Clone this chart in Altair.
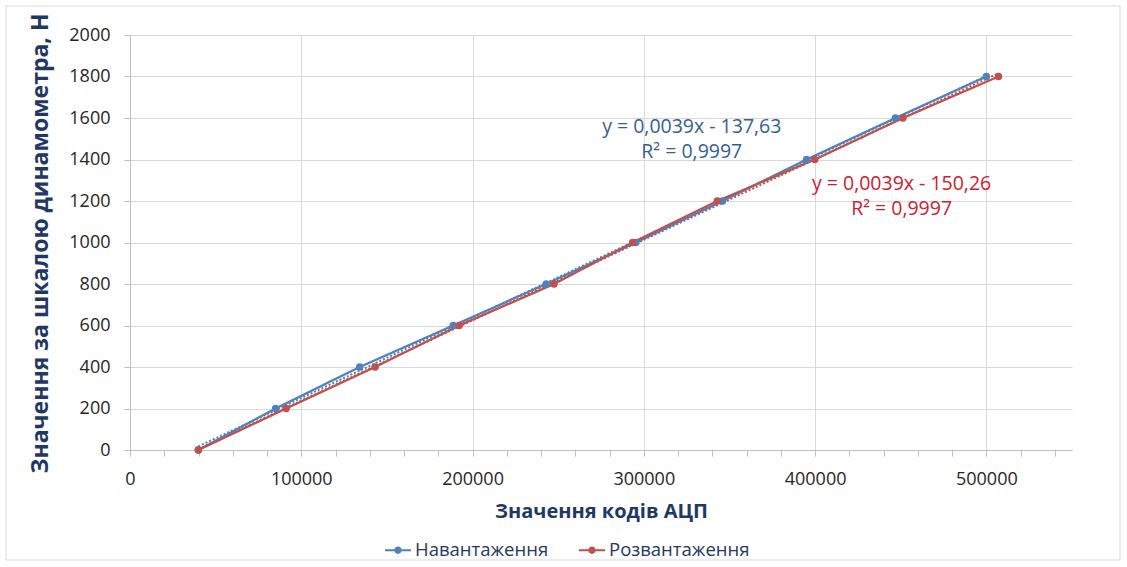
import altair as alt
import pandas as pd

# Calibration readings: ADC code vs. dynamometer scale value (N)
force_n = [0, 200, 400, 600, 800, 1000, 1200, 1400, 1600, 1800]
adc_loading = [39900, 85000, 134100, 188700, 243000, 295400, 346000, 395000, 446900, 500000]
adc_unloading = [39900, 91200, 143100, 192200, 247600, 293500, 342900, 399800, 451300, 507100]

series_names = ["Навантаження", "Розвантаження"]
series_colors = ["#4F81BD", "#C0504D"]

# Trendline equations as printed next to each series
eq_texts = [
    ["y = 0,0039x - 137,63", "R² = 0,9997"],
    ["y = 0,0039x - 150,26", "R² = 0,9997"],
]
eq_x = [328000, 450500]
eq_y = [1555, 1280]
eq_colors = ["#365F91", "#D0202F"]

x_title = "Значення кодів АЦП"
y_title = "Значення за шкалою динамометра, Н"

FONT = "Open Sans"
NAVY = "#1F3864"

rows = []
for name, xs in zip(series_names, [adc_loading, adc_unloading]):
    for xv, yv in zip(xs, force_n):
        rows.append({"adc": xv, "force": yv, "series": name})
df = pd.DataFrame(rows)

x_scale = alt.Scale(domain=[0, 550000], nice=False, zero=False)
y_scale = alt.Scale(domain=[0, 2000], nice=False)
color_scale = alt.Scale(domain=series_names, range=series_colors)

x_axis = alt.Axis(
    title=x_title,
    values=list(range(0, 550001, 20000)),
    tickCount=100,
    format="d",
    labelExpr="datum.value % 100000 === 0 ? datum.label : ''",
    labelOverlap=False,
    labelFlush=False,
    labelFont=FONT,
    labelFontSize=18,
    labelColor="#262626",
    labelPadding=14,
    tickSize=6,
    tickColor="#BFBFBF",
    domainColor="#BFBFBF",
    grid=True,
    gridColor={
        "condition": {"test": "datum.value % 100000 === 0", "value": "#D9D9D9"},
        "value": "transparent",
    },
    titleFont=FONT,
    titleFontSize=20,
    titleFontWeight="bold",
    titleColor=NAVY,
    titleX=471,
    titleY=61,
    titleBaseline="middle",
)
y_axis = alt.Axis(
    title=y_title,
    values=list(range(0, 2001, 200)),
    tickCount=100,
    format="d",
    labelFont=FONT,
    labelFontSize=18,
    labelColor="#262626",
    labelPadding=14,
    tickSize=6,
    tickColor="#BFBFBF",
    domainColor="#BFBFBF",
    grid=True,
    gridColor="#D9D9D9",
    titleFont=FONT,
    titleFontSize=23,
    titleFontWeight="bold",
    titleColor=NAVY,
    titleX=-90,
    titleY=208,
    titleBaseline="middle",
)

base = alt.Chart(df)

# Outer chart frame (outline only)
frame = alt.Chart(pd.DataFrame({"k": [0]})).mark_rect(
    fill="transparent", stroke="#D9D9D9", strokeWidth=1
).encode(
    x=alt.value(-124), x2=alt.value(990), y=alt.value(-29), y2=alt.value(525)
)

trend = base.transform_regression(
    "adc", "force", groupby=["series"]
).mark_line(strokeDash=[2, 2], strokeWidth=2).encode(
    x=alt.X("adc:Q", scale=x_scale, axis=x_axis),
    y=alt.Y("force:Q", scale=y_scale, axis=y_axis),
    color=alt.Color("series:N", scale=color_scale, legend=None),
    detail="series:N",
)

lines = base.mark_line(strokeWidth=2.25).encode(
    x=alt.X("adc:Q", scale=x_scale),
    y=alt.Y("force:Q", scale=y_scale),
    color=alt.Color("series:N", scale=color_scale, legend=None),
    order="force:Q",
)

legend_symbol = (
    "M-1,-0.08 L1,-0.08 L1,0.08 L-1,0.08 Z "
    "M0.28,0 A0.28,0.28 0 1,1 -0.28,0 A0.28,0.28 0 1,1 0.28,0 Z"
)

points = base.mark_point(filled=True, size=55, opacity=1).encode(
    x=alt.X("adc:Q", scale=x_scale),
    y=alt.Y("force:Q", scale=y_scale),
    color=alt.Color(
        "series:N",
        scale=color_scale,
        legend=alt.Legend(
            title=None,
            orient="none",
            direction="horizontal",
            legendX=255,
            legendY=502,
            symbolType=legend_symbol,
            symbolSize=676,
            symbolStrokeWidth=0,
            symbolOpacity=1,
            labelFont=FONT,
            labelFontSize=18.5,
            labelColor=NAVY,
            labelOffset=4,
            columnPadding=30,
        ),
    ),
)

eq_df = pd.DataFrame({"x": eq_x, "y": eq_y, "text": eq_texts, "series": series_names})
eq_labels = alt.Chart(eq_df).mark_text(
    font=FONT, fontSize=19.5, lineHeight=25, align="center", baseline="middle"
).encode(
    x=alt.X("x:Q", scale=x_scale),
    y=alt.Y("y:Q", scale=y_scale),
    text="text",
    color=alt.Color("series:N", scale=alt.Scale(domain=series_names, range=eq_colors), legend=None),
)

chart = (
    alt.layer(frame, trend, lines, points, eq_labels)
    .resolve_scale(color="independent")
    .properties(
        width=942,
        height=415,
        autosize=alt.AutoSizeParams(type="none"),
        padding={"left": 130, "top": 35, "right": 55, "bottom": 117},
        background="white",
    )
    .configure_view(stroke=None)
)

chart.save("out.html", embed_options={"renderer": "svg", "actions": False})
